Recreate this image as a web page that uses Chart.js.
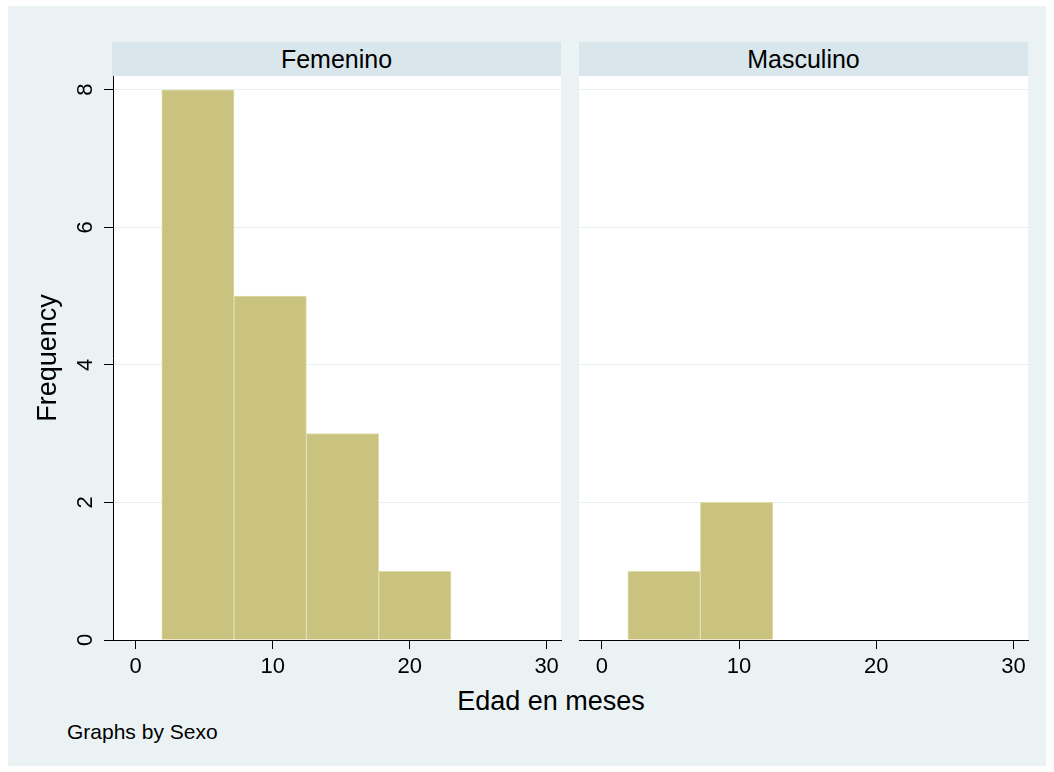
<!DOCTYPE html>
<html>
<head>
<meta charset="utf-8">
<script src="https://cdn.jsdelivr.net/npm/chart.js@4"></script>
<style>
  body { margin: 0; background: #fff; font-family: "Liberation Sans", Arial, sans-serif; }
  #page { position: relative; width: 1054px; height: 772px; overflow: hidden; }
  .abs { position: absolute; }
  #bg { left: 8px; top: 6px; width: 1038px; height: 760px; background: #eaf2f3; }
  .strip { top: 42px; height: 34px; line-height: 34px; background: #d9e6eb; text-align: center; font-size: 25px; color: #000; }
  .plot { top: 76px; height: 564px; background: #fff; }
  canvas { position: absolute; }
</style>
</head>
<body>
<div id="page">
  <div id="bg" class="abs"></div>
  <div class="abs strip" style="left:112px;width:449px;">Femenino</div>
  <div class="abs strip" style="left:579px;width:449px;">Masculino</div>
  <div class="abs plot" style="left:113px;width:448px;"></div>
  <div class="abs plot" style="left:579px;width:449px;"></div>
  <div style="position:absolute;left:20px;top:50px;width:545px;height:630px;"><canvas id="femChart"></canvas></div>
  <div style="position:absolute;left:579px;top:50px;width:453px;height:630px;"><canvas id="mascChart"></canvas></div>
  <div class="abs" style="left:351px;top:688px;width:400px;text-align:center;font-size:27px;line-height:27px;">Edad en meses</div>
  <div class="abs" style="left:67px;top:721px;font-size:21px;line-height:21px;">Graphs by Sexo</div>
</div>
<script>
// bin midpoints (months), bin width about 5.28
const binCenters = [4.54, 9.82, 15.10, 20.38];
const femenino = [8, 5, 3, 1];
const masculino = [1, 2, 0, 0];
const xTicks = [0, 10, 20, 30];
const yTicks = [0, 2, 4, 6, 8];

const barFill = 'rgb(202, 195, 128)';
const barLine = 'rgb(226, 221, 172)';
const gridCol = '#e6eff1';
const fontFam = '"Liberation Sans", Arial, sans-serif';

function makeData(counts) {
    return binCenters.map((x, i) => ({ x: x, y: counts[i] > 0 ? counts[i] : null }));
}

function makeChart(id, counts, showY) {
    const ctx = document.getElementById(id).getContext('2d');
    return new Chart(ctx, {
        type: 'bar',
        data: {
            datasets: [{
                data: makeData(counts),
                backgroundColor: barFill,
                borderColor: barLine,
                borderWidth: 1,
                barPercentage: 1,
                categoryPercentage: 1,
            }],
        },
        options: {
            responsive: true,
            maintainAspectRatio: false,
            animation: false,
            layout: { padding: { top: 26, right: 4, left: 0, bottom: 0 } },
            plugins: { legend: { display: false }, tooltip: { enabled: false } },
            scales: {
                x: {
                    type: 'linear',
                    min: -1.66,
                    max: 31.05,
                    offset: false,
                    afterBuildTicks: (scale) => { scale.ticks = xTicks.map(v => ({ value: v })); },
                    afterFit: (scale) => { scale.height = 40; },
                    grid: { offset: false, drawOnChartArea: false, tickLength: 9, tickColor: '#000' },
                    border: { color: '#000', width: 1 },
                    ticks: { padding: 5, color: '#000', font: { family: fontFam, size: 22 } },
                },
                y: {
                    min: 0,
                    max: 8.2,
                    afterBuildTicks: (scale) => { scale.ticks = yTicks.map(v => ({ value: v })); },
                    afterFit: (scale) => { scale.width = showY ? 93 : 0; },
                    grid: { color: gridCol, lineWidth: 1, drawTicks: showY, tickLength: showY ? 9 : 0, tickColor: '#000' },
                    border: { display: showY, color: '#000', width: 1 },
                    ticks: {
                        display: showY,
                        padding: 12,
                        minRotation: 90,
                        maxRotation: 90,
                        crossAlign: 'center',
                        color: '#000',
                        font: { family: fontFam, size: 22 },
                    },
                    title: {
                        display: showY,
                        text: 'Frequency',
                        color: '#000',
                        padding: { top: 12, bottom: 0 },
                        font: { family: fontFam, size: 27 },
                    },
                },
            },
        },
    });
}

makeChart('femChart', femenino, true);
makeChart('mascChart', masculino, false);
</script>
</body>
</html>
